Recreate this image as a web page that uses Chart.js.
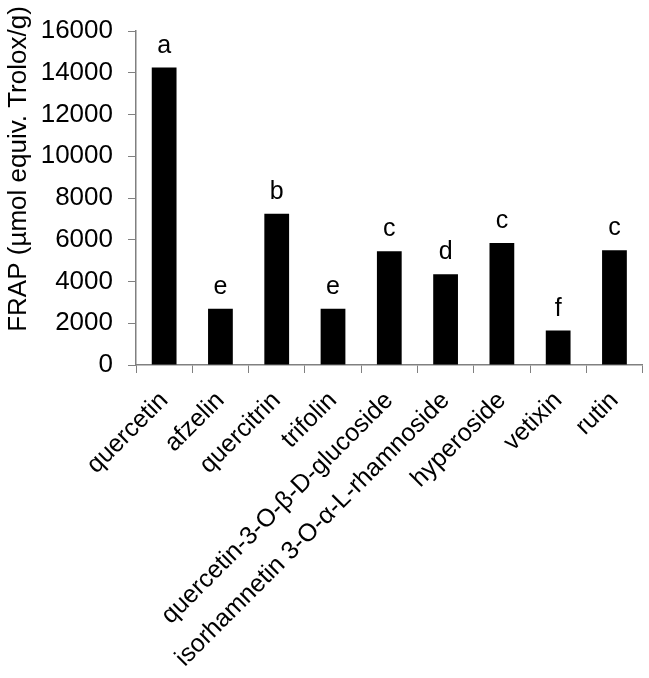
<!DOCTYPE html>
<html>
<head>
<meta charset="utf-8">
<script src="https://cdn.jsdelivr.net/npm/chart.js@4"></script>
<style>
  body { margin: 0; background: #fff; }
  #wrap { width: 649px; height: 678px; position: relative; }
</style>
</head>
<body>
<div id="wrap"><canvas id="frapChart"></canvas></div>
<script>
const compounds = ['quercetin', 'afzelin', 'quercitrin', 'trifolin', 'quercetin-3-O-β-D-glucoside',
    'isorhamnetin 3-O-α-L-rhamnoside', 'hyperoside', 'vetixin', 'rutin'];
const frapValues = [14250, 2700, 7250, 2700, 5450, 4350, 5850, 1650, 5500];
const sigLetters = ['a', 'e', 'b', 'e', 'c', 'd', 'c', 'f', 'c'];
const yTitle = 'FRAP (µmol equiv. Trolox/g)';

const fontFamily = '"Liberation Sans", Arial, sans-serif';
const axisGray = '#808080';

// letters above each bar
const letterPlugin = {
    id: 'letters',
    afterDatasetsDraw(chart) {
        const ctx = chart.ctx;
        const meta = chart.getDatasetMeta(0);
        ctx.save();
        ctx.font = '25px ' + fontFamily;
        ctx.fillStyle = '#000';
        ctx.textAlign = 'center';
        ctx.textBaseline = 'alphabetic';
        meta.data.forEach((bar, i) => {
            ctx.fillText(sigLetters[i], bar.x, bar.y - 15);
        });
        ctx.restore();
    }
};

// y title drawn by hand, it sits a bit above the middle of the axis
const yTitlePlugin = {
    id: 'yTitle',
    afterDraw(chart) {
        const ctx = chart.ctx;
        ctx.save();
        ctx.translate(19, 169);
        ctx.rotate(-Math.PI / 2);
        ctx.font = '26px ' + fontFamily;
        ctx.fillStyle = '#000';
        ctx.textAlign = 'center';
        ctx.textBaseline = 'middle';
        ctx.fillText(yTitle, 0, 0);
        ctx.restore();
    }
};

const ctx = document.getElementById('frapChart').getContext('2d');
new Chart(ctx, {
    type: 'bar',
    data: {
        labels: compounds,
        datasets: [{
            data: frapValues,
            backgroundColor: '#000',
            borderWidth: 0,
            barPercentage: 0.44,
            categoryPercentage: 1
        }]
    },
    options: {
        responsive: true,
        maintainAspectRatio: false,
        animation: false,
        layout: { padding: { top: 31, right: 6, left: 0, bottom: 0 } },
        plugins: {
            legend: { display: false },
            tooltip: { enabled: false }
        },
        scales: {
            x: {
                offset: true,
                grid: { display: true, drawOnChartArea: false, tickLength: 8, color: axisGray, offset: true },
                border: { color: axisGray, width: 1.5 },
                ticks: {
                    color: '#000',
                    font: { family: fontFamily, size: 25 },
                    minRotation: 45,
                    maxRotation: 45,
                    autoSkip: false,
                    padding: 13,
                    labelOffset: 0
                },
                afterFit(scale) { scale.height = 313; }
            },
            y: {
                min: 0,
                max: 16000,
                grid: { display: true, drawOnChartArea: false, tickLength: 8, color: axisGray },
                border: { color: axisGray, width: 1.5 },
                ticks: {
                    stepSize: 2000,
                    color: '#000',
                    font: { family: fontFamily, size: 26 },
                    padding: 15,
                    callback: (v) => String(v)
                },
                afterFit(scale) { scale.width = 136; }
            }
        }
    },
    plugins: [letterPlugin, yTitlePlugin]
});
</script>
</body>
</html>
